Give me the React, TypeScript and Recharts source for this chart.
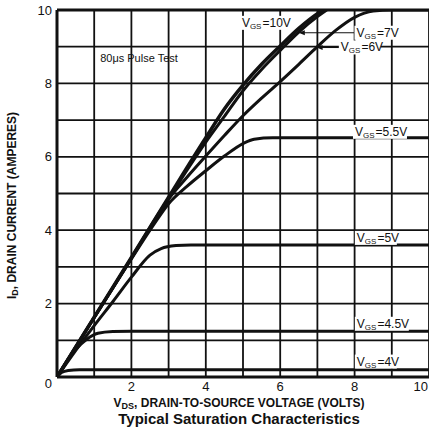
import React from 'react'
import { LineChart, Line, XAxis, YAxis, CartesianGrid, ReferenceLine, ReferenceDot, Label } from 'recharts'

// V_DS (volts) and I_D (amperes), one pair per gate voltage
const vds10 = [0, 1, 2, 3, 4, 4.5, 5, 5.5, 6, 6.5, 7, 7.15]
const id10 = [0, 1.63, 3.26, 4.9, 6.52, 7.3, 7.95, 8.52, 9.02, 9.5, 9.9, 10]

const vds7 = [0, 1, 2, 3, 4, 4.5, 5, 5.5, 6, 6.5, 7, 7.25]
const id7 = [0, 1.62, 3.24, 4.86, 6.4, 7.1, 7.8, 8.38, 8.9, 9.4, 9.82, 10]

const vds6 = [0, 1, 2, 2.7, 3, 3.5, 4, 4.5, 5, 5.5, 6, 6.5, 7, 7.5, 8, 8.5, 9, 10]
const id6 = [0, 1.62, 3.24, 4.4, 4.85, 5.45, 6.02, 6.58, 7.12, 7.6, 8.05, 8.52, 9.0, 9.45, 9.8, 9.97, 10, 10]

const vds55 = [0, 1, 2, 2.6, 3, 3.5, 4, 4.5, 5, 5.3, 5.8, 10]
const id55 = [0, 1.62, 3.22, 4.15, 4.72, 5.2, 5.62, 6.02, 6.36, 6.48, 6.52, 6.52]

const vds5 = [0, 0.5, 1, 1.5, 2, 2.5, 2.8, 3.2, 3.6, 10]
const id5 = [0, 0.72, 1.4, 2.05, 2.72, 3.32, 3.5, 3.58, 3.6, 3.6]

const vds45 = [0, 0.5, 0.8, 1.1, 1.5, 2, 10]
const id45 = [0, 0.75, 1.03, 1.19, 1.24, 1.25, 1.25]

const vds4 = [0, 0.12, 0.3, 0.6, 10]
const id4 = [0, 0.12, 0.18, 0.2, 0.2]

const gridTicks = [0, 1, 2, 3, 4, 5, 6, 7, 8, 9, 10]

const toPoints = (v: number[], i: number[]) => v.map((x, k) => ({ vds: x, id: i[k] }))

const font = '"Liberation Sans", Arial, Helvetica, sans-serif'
const ink = '#111'

function YTick(props: any) {
  const { x, y, payload } = props
  if (payload.value % 2 !== 0) return <g />
  return (
    <text x={x} y={y + (payload.value === 0 ? 6 : 0)} dy="0.35em" textAnchor="end" fontSize={13} fontFamily={font} fill={ink}>
      {payload.value}
    </text>
  )
}

function XTick(props: any) {
  const { x, y, payload } = props
  if (payload.value % 2 !== 0 || payload.value === 0) return <g />
  const last = payload.value === 10
  return (
    <text x={last ? x - 1 : x} y={y} dy="0.71em" textAnchor={last ? 'end' : 'middle'} fontSize={13} fontFamily={font} fill={ink}>
      {payload.value}
    </text>
  )
}

function tag(value: string, w: number) {
  return (props: any) => {
    const { cx, cy } = props
    return (
      <g>
        <rect x={cx - 2} y={cy - 7} width={w} height={14} fill="#fff" />
        <text x={cx} y={cy + 4} fontSize={12} fontFamily={font} fill={ink}>
          V<tspan fontSize={8} dy={2}>GS</tspan>
          <tspan dy={-2} dx={1}>{'=' + value}</tspan>
        </text>
      </g>
    )
  }
}

const arrowLeft = (props: any) => {
  const { cx, cy } = props
  return <path d={`M${cx},${cy} l6,-2.5 l0,5 z`} fill={ink} />
}

const pulseText = (props: any) => (
  <text x={props.cx} y={props.cy + 4} fontSize={11} fontFamily={font} fill={ink}>80μs Pulse Test</text>
)

function XTitle(props: any) {
  const { x, width, y } = props.viewBox
  const cx = x + width / 2 - 4
  return (
    <g fontFamily={font} fill={ink} fontWeight="bold" textAnchor="middle">
      <text x={cx} y={y + 30} fontSize={12}>
        V<tspan fontSize={9} dy={2}>DS</tspan>
        <tspan dy={-2}>, DRAIN-TO-SOURCE VOLTAGE (VOLTS)</tspan>
      </text>
      <text x={cx} y={y + 47} fontSize={15}>Typical Saturation Characteristics</text>
    </g>
  )
}

function YTitle(props: any) {
  const { y, height } = props.viewBox
  const cy = y + height / 2 + 12
  return (
    <text x={16} y={cy} transform={`rotate(-90 16 ${cy})`} textAnchor="middle" fontSize={12} fontWeight="bold" fontFamily={font} fill={ink}>
      I<tspan fontSize={9} dy={2}>D</tspan>
      <tspan dy={-2}>, DRAIN CURRENT (AMPERES)</tspan>
    </text>
  )
}

export default function App() {
  const curve = (v: number[], i: number[], w: number, name: string) => (
    <Line
      key={name}
      name={name}
      data={toPoints(v, i)}
      dataKey="id"
      type="monotone"
      stroke={ink}
      strokeWidth={w}
      dot={false}
      activeDot={false}
      isAnimationActive={false}
    />
  )
  return (
    <div style={{ position: 'fixed', left: 0, top: 0, width: 429, height: 430, overflow: 'hidden', background: '#fff' }}>
      <LineChart width={440} height={430} margin={{ top: 10, right: 11, left: 0, bottom: 33 }}>
        <CartesianGrid stroke={ink} strokeWidth={1.8} strokeOpacity={1} />
        <XAxis
          type="number"
          dataKey="vds"
          domain={[0, 10]}
          ticks={gridTicks}
          allowDataOverflow
          height={20}
          tickSize={0}
          tickMargin={5}
          tick={<XTick />}
          axisLine={{ stroke: ink, strokeWidth: 3 }}
        >
          <Label content={<XTitle />} />
        </XAxis>
        <YAxis
          type="number"
          domain={[0, 10]}
          ticks={gridTicks}
          allowDataOverflow
          width={57}
          tickSize={0}
          tickMargin={5}
          tick={<YTick />}
          axisLine={{ stroke: ink, strokeWidth: 3 }}
        >
          <Label content={<YTitle />} />
        </YAxis>
        <ReferenceLine y={10} stroke={ink} strokeWidth={3} />
        {curve(vds4, id4, 3, '4V')}
        {curve(vds45, id45, 3, '4.5V')}
        {curve(vds5, id5, 3, '5V')}
        {curve(vds55, id55, 3, '5.5V')}
        {curve(vds6, id6, 3, '6V')}
        {curve(vds7, id7, 3, '7V')}
        {curve(vds10, id10, 3.5, '10V')}
        <ReferenceLine segment={[{ x: 6.55, y: 9.38 }, { x: 8.0, y: 9.38 }]} stroke={ink} strokeWidth={1.2} />
        <ReferenceDot x={6.5} y={9.38} shape={arrowLeft} />
        <ReferenceLine segment={[{ x: 7.02, y: 8.98 }, { x: 7.6, y: 8.98 }]} stroke={ink} strokeWidth={1.2} />
        <ReferenceDot x={6.98} y={8.98} shape={arrowLeft} />
        <ReferenceDot x={4.97} y={9.65} shape={tag('10V', 50)} />
        <ReferenceDot x={8.05} y={9.38} shape={tag('7V', 42)} />
        <ReferenceDot x={7.63} y={8.98} shape={tag('6V', 42)} />
        <ReferenceDot x={8.01} y={6.68} shape={tag('5.5V', 54)} />
        <ReferenceDot x={8.06} y={3.79} shape={tag('5V', 42)} />
        <ReferenceDot x={8.06} y={1.45} shape={tag('4.5V', 54)} />
        <ReferenceDot x={8.06} y={0.42} shape={tag('4V', 42)} />
        <ReferenceDot x={1.16} y={8.69} shape={pulseText} />
      </LineChart>
    </div>
  )
}
